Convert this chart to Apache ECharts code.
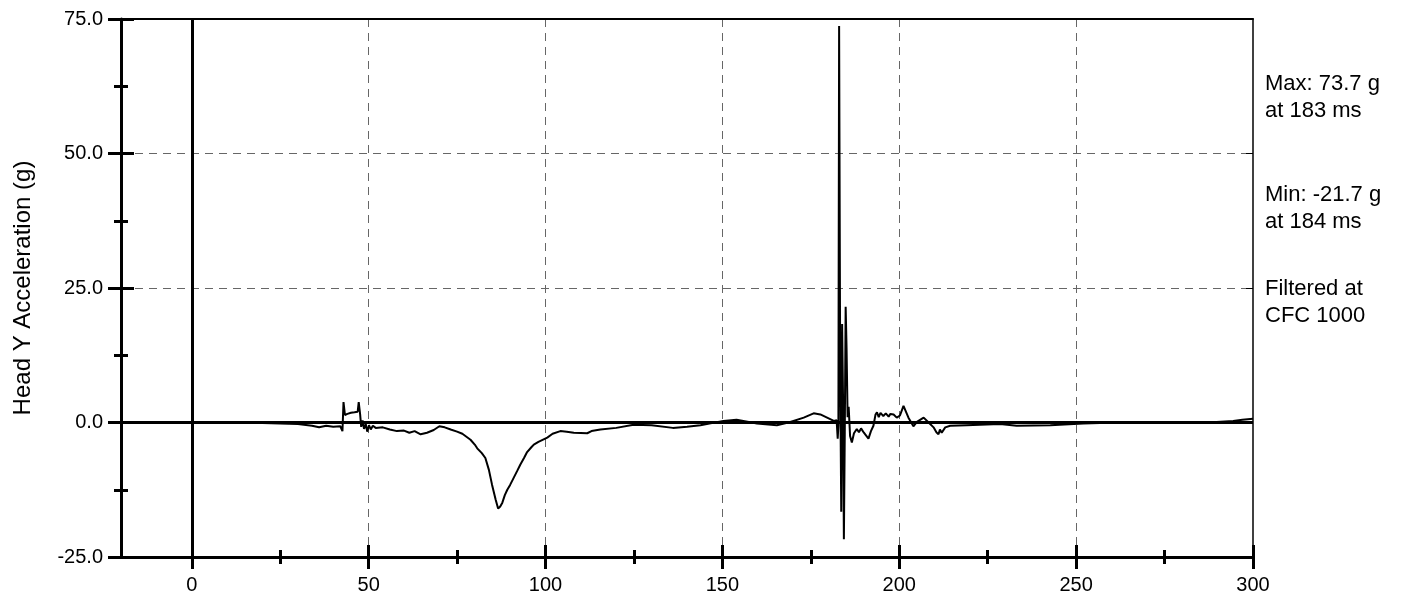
<!DOCTYPE html>
<html>
<head>
<meta charset="utf-8">
<script src="https://cdn.jsdelivr.net/npm/echarts@6/dist/echarts.min.js"></script>
<style>
html,body{margin:0;padding:0;background:#fff;}
#chart{width:1403px;height:599px;}
</style>
</head>
<body>
<div id="chart"></div>
<script>
// Time (ms)
var timeMs = [-20,-10,0,10,20,25,30,34,36,38,40,42,42.6,42.9,43.3,44,45,46,46.9,47.2,47.6,47.9,48.3,48.7,49.2,49.6,50.1,50.6,51.2,52,54,56,58,60,61.5,63,64.7,66.5,68.4,70,71.5,73.2,75,76.5,78.8,80,80.7,82,83,84,84.9,85.9,86.6,87.2,87.8,88.5,89.2,90,91,92,92.9,94,94.8,96,96.7,98,100.5,102,104.2,106,108,111.8,113,115.5,120,124.9,130,136,140,143.8,150.3,154,159.8,165.4,169.2,173,175.8,177.7,179.6,181.5,182.3,182.6,182.8,183.0,183.3,183.6,183.85,184.1,184.35,184.6,184.85,185.1,185.4,185.7,186.1,186.6,187.2,188,188.6,189.2,190,191.3,192.0,192.7,193.3,193.7,194.2,194.7,195.5,196.2,197,197.5,198.4,199.3,200.2,201.2,201.7,202.6,204,205,206.9,208.3,209.7,210.5,211.1,211.5,212,213,214.4,219,228.5,233.2,242.7,252,261.5,271,280.3,289.7,294.4,297,300];
// Head Y acceleration (g)
var accelG = [0.0,0.05,0.0,-0.1,-0.1,-0.2,-0.3,-0.6,-0.9,-0.6,-0.8,-0.7,-1.6,3.8,1.4,1.6,1.8,1.9,2.0,3.8,1.5,-0.8,0.4,-1.2,-0.3,-1.7,-0.5,-1.3,-0.6,-1.0,-0.9,-1.3,-1.6,-1.5,-1.9,-1.6,-2.2,-1.9,-1.4,-0.7,-0.9,-1.3,-1.7,-2.1,-3.2,-4.1,-4.8,-5.7,-6.6,-8.8,-11.6,-14.3,-16.0,-15.6,-14.9,-13.5,-12.5,-11.6,-10.3,-9.0,-7.8,-6.5,-5.5,-4.6,-4.1,-3.6,-2.8,-2.1,-1.6,-1.7,-1.9,-2.0,-1.6,-1.3,-1.0,-0.4,-0.5,-1.0,-0.8,-0.5,0.3,0.5,-0.2,-0.5,0.1,0.9,1.7,1.5,0.9,0.3,0.4,-3.0,-0.5,73.7,10,-16.6,18.3,5,-21.7,-2,21.5,14,1.0,2.9,-2.5,-3.7,-2.0,-1.2,-1.8,-1.1,-1.9,-3.0,-1.6,-0.6,1.5,1.9,1.0,1.8,1.2,1.7,1.1,1.6,1.5,0.9,1.3,3.1,3.0,0.9,-0.7,0.1,0.9,0.0,-0.9,-1.8,-2.2,-1.3,-1.9,-0.9,-0.6,-0.5,-0.3,-0.6,-0.5,-0.2,0.0,0.1,0.0,0.1,0.3,0.5,0.7];

var xLabelValues = [0,50,100,150,200,250,300];
var xMinorValues = [25,75,125,175,225,275];
var xGridValues = [50,100,150,200,250];
var yMinorValues = [-12.5,12.5,37.5,62.5];
var yGridValues = [25,50];
var yAxisTitle = 'Head Y Acceleration (g)';
var notes = ['Max: 73.7 g\nat 183 ms', 'Min: -21.7 g\nat 184 ms', 'Filtered at\nCFC 1000'];

var FONT = 'Liberation Sans, Arial, sans-serif';
var X_MIN = -20, X_MAX = 300, Y_MIN = -25, Y_MAX = 75;

function xAx(o) {
  var base = {type:'value', min:X_MIN, max:X_MAX, position:'bottom',
    axisLine:{show:false, onZero:false}, axisTick:{show:false}, axisLabel:{show:false}, splitLine:{show:false}};
  for (var k in o) base[k] = o[k];
  return base;
}
function yAx(o) {
  var base = {type:'value', min:Y_MIN, max:Y_MAX, interval:25, position:'left',
    axisLine:{show:false, onZero:false}, axisTick:{show:false}, axisLabel:{show:false}, splitLine:{show:false}};
  for (var k in o) base[k] = o[k];
  return base;
}

var data = timeMs.map(function(t,i){return [t, accelG[i]];});

var chart = echarts.init(document.getElementById('chart'), null, {renderer:'canvas'});
chart.setOption({
  animation:false,
  backgroundColor:'#fff',
  grid:{left:121, right:150, top:19, bottom:42, containLabel:false, outerBoundsMode:'none'},
  xAxis:[
    xAx({axisLine:{show:true, onZero:false, lineStyle:{color:'#000', width:3}},
      axisTick:{show:true, customValues:xLabelValues, length:12, lineStyle:{color:'#000', width:3}},
      axisLabel:{show:true, customValues:xLabelValues, margin:18, fontSize:20, color:'#000', fontFamily:FONT}}),
    xAx({axisTick:{show:true, inside:true, customValues:xLabelValues, length:12, lineStyle:{color:'#000', width:3}}}),
    xAx({axisTick:{show:true, customValues:xMinorValues, length:7, lineStyle:{color:'#000', width:3}}}),
    xAx({axisTick:{show:true, inside:true, customValues:xMinorValues, length:7, lineStyle:{color:'#000', width:3}}}),
    xAx({axisTick:{show:false, customValues:xGridValues}, splitLine:{show:true, lineStyle:{color:'#666', width:1, type:[8,6]}}}),
    xAx({axisTick:{show:false, customValues:[0]}, splitLine:{show:true, lineStyle:{color:'#000', width:3}}}),
    xAx({position:'top', axisLine:{show:true, onZero:false, lineStyle:{color:'#000', width:2}}})
  ],
  yAxis:[
    yAx({axisLine:{show:true, onZero:false, lineStyle:{color:'#000', width:3}},
      axisTick:{show:true, length:13, lineStyle:{color:'#000', width:3}},
      axisLabel:{show:true, margin:18, fontSize:20, color:'#000', fontFamily:FONT,
        formatter:function(v){return v.toFixed(1);}},
      name:yAxisTitle, nameLocation:'middle', nameRotate:90, nameGap:86,
      nameTextStyle:{fontSize:24, color:'#000', fontFamily:FONT}}),
    yAx({axisTick:{show:true, inside:true, length:13, lineStyle:{color:'#000', width:3}}}),
    yAx({axisTick:{show:true, customValues:yMinorValues, length:7, lineStyle:{color:'#000', width:3}}}),
    yAx({axisTick:{show:true, inside:true, customValues:yMinorValues, length:7, lineStyle:{color:'#000', width:3}}}),
    yAx({axisTick:{show:false, customValues:yGridValues}, splitLine:{show:true, lineStyle:{color:'#666', width:1, type:[8,6]}}}),
    yAx({axisTick:{show:false, customValues:[0]}, splitLine:{show:true, lineStyle:{color:'#000', width:3}}}),
    yAx({position:'right', axisLine:{show:true, onZero:false, lineStyle:{color:'#000', width:1.5}},
      axisTick:{show:true, inside:true, length:7, lineStyle:{color:'#000', width:1}}})
  ],
  series:[{
    type:'line', xAxisIndex:0, yAxisIndex:0, data:data, showSymbol:false, symbol:'none',
    lineStyle:{color:'#000', width:2}, z:5, silent:true
  }],
  graphic:[
    {type:'text', left:1265, top:70, style:{text:notes[0], font:'22px ' + FONT, lineHeight:27, fill:'#000'}},
    {type:'text', left:1265, top:181, style:{text:notes[1], font:'22px ' + FONT, lineHeight:27, fill:'#000'}},
    {type:'text', left:1265, top:275, style:{text:notes[2], font:'22px ' + FONT, lineHeight:27, fill:'#000'}}
  ]
});
</script>
</body>
</html>
